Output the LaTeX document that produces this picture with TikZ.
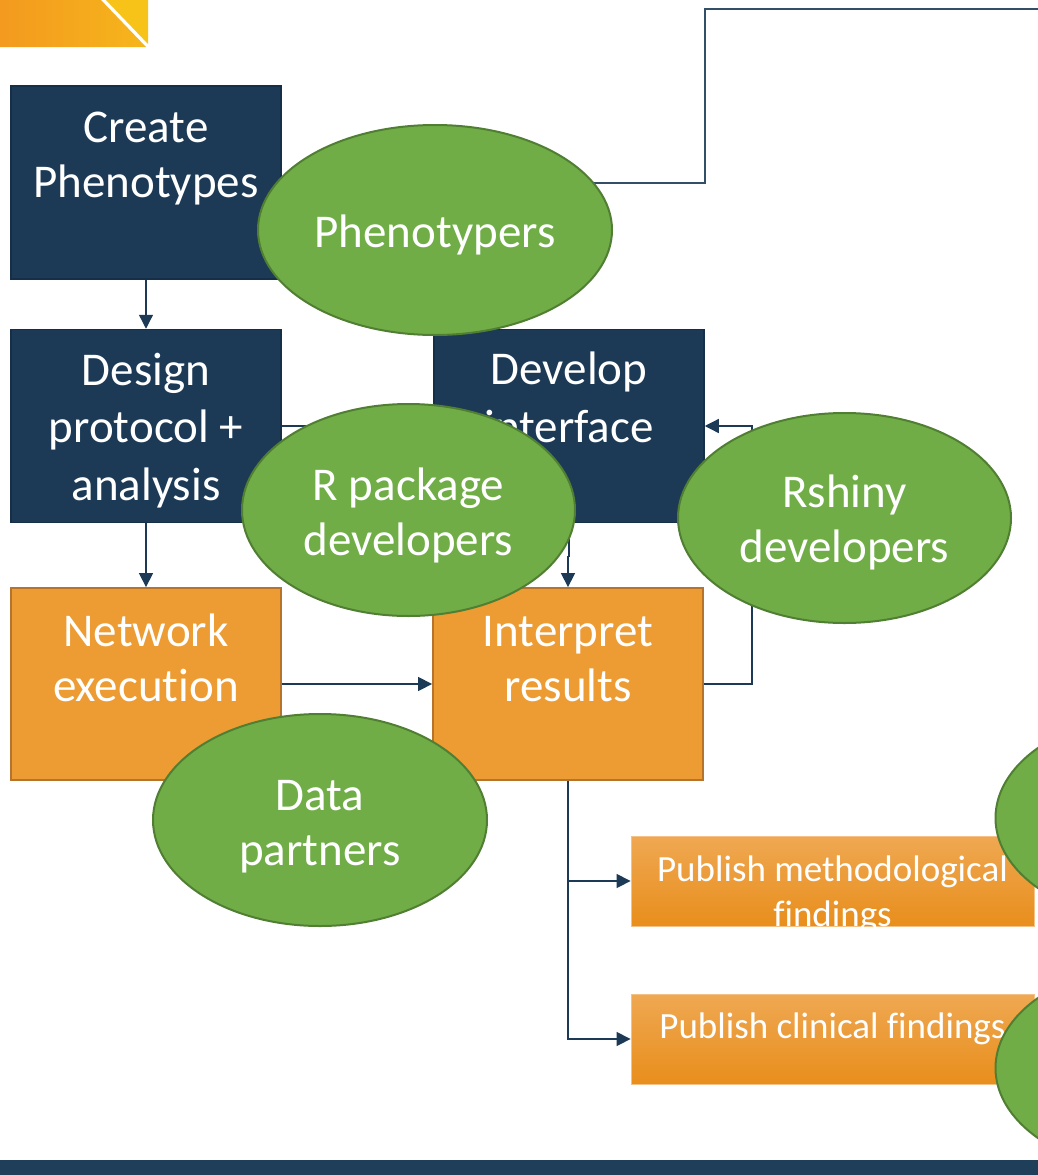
\documentclass[tikz,border=0pt]{standalone}
\usepackage{fontspec}
\setmainfont{Carlito}[Ligatures=NoCommon]
\usetikzlibrary{shapes.geometric,arrows.meta}

\definecolor{navy}{HTML}{1C3A56}
\definecolor{navyedge}{HTML}{142F47}
\definecolor{orangebox}{HTML}{ED9C33}
\definecolor{orangeedge}{HTML}{B5732C}
\definecolor{leaf}{HTML}{70AD47}
\definecolor{leafedge}{HTML}{507E32}
\definecolor{pubtop}{HTML}{EFA852}
\definecolor{pubbot}{HTML}{E88E1C}
\definecolor{linkcol}{HTML}{1C3A56}
\definecolor{barcol}{HTML}{1F3E59}
\definecolor{cornerA}{HTML}{F39A1F}
\definecolor{cornerB}{HTML}{F6B51B}
\definecolor{cornerC}{HTML}{F8C318}

\newcommand\boxfont{\fontsize{47}{55}\selectfont}
\newcommand\wideboxfont{\fontsize{47}{57.5}\selectfont}
\newcommand\pubfont{\fontsize{37}{45}\selectfont}

\tikzset{
  stepbox/.style={rectangle, draw=navyedge, line width=1.5pt, fill=navy,
    minimum width=270pt, minimum height=193pt, inner sep=0pt},
  runbox/.style={rectangle, draw=orangeedge, line width=1.8pt, fill=orangebox,
    minimum width=270pt, minimum height=192pt, inner sep=0pt},
  pubbox/.style={rectangle, draw=pubtop!70!white, line width=0.8pt,
    top color=pubtop, bottom color=pubbot,
    minimum width=403pt, minimum height=90pt, inner sep=0pt},
  role/.style={ellipse, draw=leafedge, line width=2pt, fill=leaf, inner sep=0pt},
  % text blocks are placed by the baseline of their last line
  boxtext/.style={text=white, font=\boxfont, align=center, anchor=base, inner sep=0pt},
  pubtext/.style={text=white, font=\pubfont, align=center, anchor=base, inner sep=0pt},
  conn/.style={draw=linkcol, line width=1.3pt, -{Triangle[length=14pt,width=14pt]}},
  toplink/.style={draw=linkcol!90!white, line width=2pt},
}

\begin{document}
\begin{tikzpicture}[x=1pt,y=-1pt]
\useasboundingbox (0,0) rectangle (1038,1175);
\clip (0,0) rectangle (1038,1175);

% corner emblem and footer bar
\shade[left color=cornerA, right color=cornerB] (0,-2) -- (99,-2) -- (146,47) -- (0,47) -- cycle;
\fill[cornerC] (104,-2) -- (148,-2) -- (148,44) -- cycle;
\fill[barcol] (0,1160) rectangle (1038,1177);

% process steps
\node[stepbox] (create)  at (146,182.5) {};
\node[stepbox] (design)  at (146,426) {};
\node[stepbox] (develop) at (569,426) {};
\node[runbox]  (network)   at (146,684) {};
\node[runbox]  (interpret) at (568,684) {};
\node[pubbox]  (pubmeth) at (832.5,881) {};
\node[pubbox]  (pubclin) at (832.5,1039) {};

\node[boxtext] (createtxt)    at (146,197) {Create\\Phenotypes};
\node[boxtext, font=\wideboxfont] (designtxt)  at (146,500) {Design\\protocol +\\analysis};
\node[boxtext, font=\wideboxfont] (developtxt) at (569,442) {Develop\\interface};
\node[boxtext] (networktxt)   at (146,701) {Network\\execution};
\node[boxtext] (interprettxt) at (568,701) {Interpret\\results};
\begin{scope}
  \clip (pubmeth.south west) rectangle (pubmeth.north east);
  \node[pubtext] (pubmethtxt) at (832.5,926) {Publish methodological\\findings};
\end{scope}
\node[pubtext] (pubclintxt) at (832.5,1038) {Publish clinical findings};

% connectors
\coordinate (topbend) at (705,9);
\coordinate (topexit) at (1060,9);
\draw[toplink] (create.east) -| (topbend) -- (topexit);
\draw[conn] (create.south) -- (design.north);
\draw[conn] (design.south) -- (network.north);
\draw[conn] (design.east) -- (develop.west);
\draw[conn] (develop.south) -- ++(0,33) -| (interpret.north);
\draw[conn] (network.east) -- (interpret.west);
\draw[conn] (interpret.east) -- ++(48,0) |- (develop.east);
\draw[conn] (interpret.south) |- (pubmeth.west);
\draw[conn] (interpret.south) |- (pubclin.west);

% roles
\node[role, minimum width=354pt, minimum height=210pt] (phenotypers) at (435,230) {};
\node[role, minimum width=333pt, minimum height=212pt] (rpkg) at (408.5,510) {};
\node[role, minimum width=333pt, minimum height=210pt] (rshiny) at (844.5,518) {};
\node[role, minimum width=334pt, minimum height=212pt] (partners) at (320,820) {};
\node[role, minimum width=333pt, minimum height=210pt] (roleA) at (1162,818) {};
\node[role, minimum width=333pt, minimum height=210pt] (roleB) at (1162,1068) {};

\node[boxtext] (phenotxt)    at (435,247)   {Phenotypers};
\node[boxtext] (rpkgtxt)     at (408.5,555) {R package\\developers};
\node[boxtext] (rshinytxt)   at (844.5,562) {Rshiny\\developers};
\node[boxtext] (partnerstxt) at (320,865)   {Data\\partners};
\end{tikzpicture}
\end{document}
